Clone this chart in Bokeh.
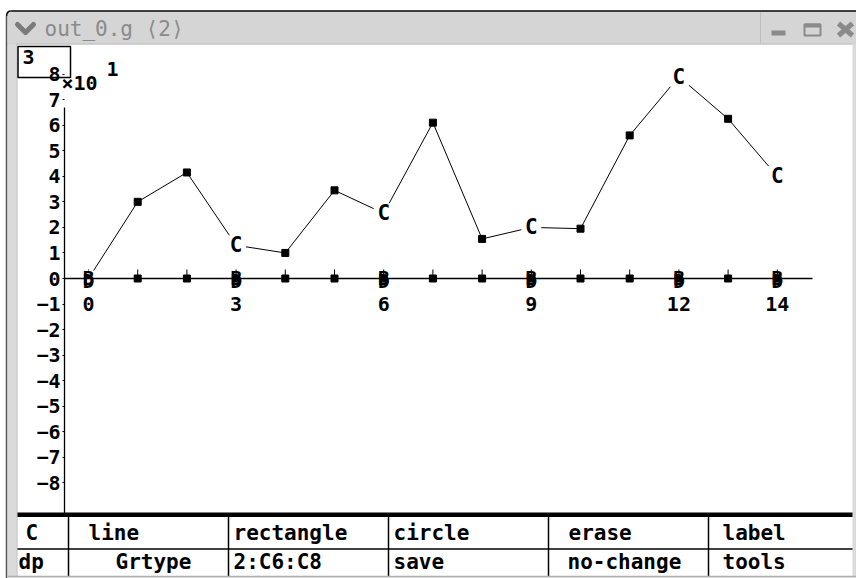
from bokeh.plotting import figure
from bokeh.models import Range1d, LinearAxis, FixedTicker
from bokeh.core.properties import value
from bokeh.embed import file_html
from bokeh.resources import INLINE

# ---------------- data ----------------
X_VALS = list(range(15))
Y_VALS = [0.0, 3.0, 4.15, 1.3, 1.0, 3.45, 2.55, 6.1, 1.55, 2.0, 1.95, 5.6, 7.9, 6.25, 4.0]
MARKERS = ["B", "s", "s", "C", "s", "s", "C", "s", "s", "C", "s", "s", "C", "s", "C"]
AXIS_MARK_X = list(range(15))
AXIS_B_X = [0, 3, 6, 9, 12, 14]
X_TICKS = [0, 3, 6, 9, 12, 14]
Y_TICKS = list(range(-8, 9))
SCALE_TEXT = "×10"
SCALE_EXP = "1"
BOX_TEXT = "3"
TITLE = "out_0.g ⟨2⟩"
MENU_ROW1 = ["C", "line", "rectangle", "circle", "erase", "label"]
MENU_ROW2 = ["dp", "Grtype", "2:C6:C8", "save", "no-change", "tools"]

# ---------------- layout (pixel positions in the window) ----------------
W, H = 856, 578
X0_PX, XU_PX = 88.0, 49.2
Y0_PX, YU_PX = 278.0, 25.55
FONT = "DejaVu Sans Mono"


def dx(px):
    return (px - X0_PX) / XU_PX


def dy(py):
    return (Y0_PX - py) / YU_PX


p = figure(width=W, height=H,
           x_range=Range1d(dx(0), dx(W)),
           y_range=Range1d(dy(H), dy(0)),
           output_backend="svg", toolbar_location=None,
           x_axis_location=None, y_axis_location=None,
           min_border=0, outline_line_color=None,
           background_fill_color="white", border_fill_color="white")
p.xgrid.visible = False
p.ygrid.visible = False


def txt(px, py, s, size=20, color="black", bold=True, align="left"):
    # py is the vertical centre of the text
    p.text(x=[dx(px)], y=[dy(py)], text=[s], text_font=value(FONT),
           text_font_size=value(f"{size}px"), text_color=color,
           text_font_style="bold" if bold else "normal",
           text_align=align, text_baseline="middle")


def hline(x0, x1, y, color="black", width=1.5):
    p.segment(x0=[dx(x0)], y0=[dy(y)], x1=[dx(x1)], y1=[dy(y)], line_color=color, line_width=width)


def vline(x, y0, y1, color="black", width=1.5):
    p.segment(x0=[dx(x)], y0=[dy(y0)], x1=[dx(x)], y1=[dy(y1)], line_color=color, line_width=width)


# ---------------- window chrome ----------------
p.quad(left=[dx(7)], right=[dx(856)], top=[dy(11)], bottom=[dy(43)],
       fill_color="#d5d5d5", line_color=None)
hline(10, 856, 10.5, "black", 1.5)
p.line(x=[dx(6), dx(6.5), dx(8), dx(10)], y=[dy(16), dy(13), dy(11), dy(10.5)],
       line_color="black", line_width=1.5)
hline(7, 856, 43.5, "#a9a9a9", 1)
vline(760, 12, 43, "#bdbdbd", 1)
p.quad(left=[dx(7)], right=[dx(16)], top=[dy(43)], bottom=[dy(578)],
       fill_color="#dadada", line_color=None)
vline(6, 16, 578, "#555555", 1.5)
vline(16.5, 43, 578, "#b5b5b5", 1)
p.quad(left=[dx(852)], right=[dx(856)], top=[dy(43)], bottom=[dy(578)],
       fill_color="#dadada", line_color=None)
# chevron
p.line(x=[dx(17), dx(25), dx(33)], y=[dy(24), dy(32), dy(24)],
       line_color="#7a7a7a", line_width=5, line_cap="round", line_join="round")
txt(44, 28, TITLE, size=21, color="#8a8a8a", bold=False)
# window buttons
hline(771, 785, 32.5, "#8a8a8a", 5)
p.quad(left=[dx(804)], right=[dx(820)], top=[dy(24)], bottom=[dy(35)],
       fill_color=None, line_color="#8a8a8a", line_width=2)
hline(804, 820, 25, "#8a8a8a", 4)
p.segment(x0=[dx(838), dx(838)], y0=[dy(23), dy(35)], x1=[dx(852), dx(852)], y1=[dy(35), dy(23)],
          line_color="#8a8a8a", line_width=5)

# box with "3"
p.quad(left=[dx(17.5)], right=[dx(70)], top=[dy(46)], bottom=[dy(77)],
       fill_color=None, line_color="black", line_width=1.5)
txt(22, 56, BOX_TEXT)
# scale factor
txt(61, 82, SCALE_TEXT)
txt(106, 68, SCALE_EXP)

# ---------------- axes ----------------
yax = LinearAxis(fixed_location=dx(64), ticker=FixedTicker(ticks=Y_TICKS),
                 axis_line_color=None, major_tick_in=0, major_tick_out=2,
                 major_tick_line_color="black", minor_tick_line_color=None,
                 major_label_standoff=2, major_label_text_font=FONT,
                 major_label_text_font_size="20px", major_label_text_font_style="bold",
                 major_label_text_color="black")
p.add_layout(yax, "left")
vline(64, 107, 513, "black", 1.3)

xax = LinearAxis(fixed_location=0, bounds=(dx(64), dx(812)), ticker=FixedTicker(ticks=X_TICKS),
                 axis_line_color="black", axis_line_width=1.5,
                 major_tick_in=0, major_tick_out=0, minor_tick_line_color=None,
                 major_label_standoff=18, major_label_text_font=FONT,
                 major_label_text_font_size="20px", major_label_text_font_style="bold",
                 major_label_text_color="black")
p.add_layout(xax, "below")

# axis point marks
zeros = [0] * len(AXIS_MARK_X)
p.segment(x0=AXIS_MARK_X, y0=zeros, x1=AXIS_MARK_X, y1=[9.0 / YU_PX] * len(AXIS_MARK_X),
          line_color="black", line_width=1)
p.scatter(x=AXIS_MARK_X, y=zeros, marker="square", size=7, fill_color="black", line_color="black")

# ---------------- series ----------------
p.line(x=X_VALS, y=Y_VALS, line_color="black", line_width=1)

c_x = [x for x, m in zip(X_VALS, MARKERS) if m == "C"]
c_y = [y for y, m in zip(Y_VALS, MARKERS) if m == "C"]
s_x = [x for x, m in zip(X_VALS, MARKERS) if m == "s"]
s_y = [y for y, m in zip(Y_VALS, MARKERS) if m == "s"]
b_x = [x for x, m in zip(X_VALS, MARKERS) if m == "B"]
b_y = [y for y, m in zip(Y_VALS, MARKERS) if m == "B"]

p.scatter(x=c_x, y=c_y, marker="square", size=20, fill_color="white", line_color=None)
p.scatter(x=b_x, y=b_y, marker="square", size=16, fill_color="white", line_color=None)
p.text(x=c_x, y=c_y, text=["C"] * len(c_x), text_font=value(FONT),
       text_font_size=value("21px"), text_font_style="bold", text_color="black",
       text_align="center", text_baseline="middle")
p.scatter(x=s_x, y=s_y, marker="square", size=7, fill_color="black", line_color="black")

bz = [0] * len(AXIS_B_X)
p.text(x=AXIS_B_X, y=bz, text=["D"] * len(AXIS_B_X), text_font=value(FONT),
       text_font_size=value("19px"), text_font_style="bold", text_color="black",
       text_align="center", text_baseline="middle", y_offset=2, level="overlay")
p.text(x=AXIS_B_X, y=bz, text=["B"] * len(AXIS_B_X), text_font=value(FONT),
       text_font_size=value("19px"), text_font_style="bold", text_color="black",
       text_align="center", text_baseline="middle", y_offset=-1, level="overlay")

# ---------------- menu ----------------
p.quad(left=[dx(17)], right=[dx(852)], top=[dy(512)], bottom=[dy(516.5)],
       fill_color="black", line_color=None)
hline(17, 852, 548.5, "black", 1.5)
for cx in [68, 228, 388, 548, 708]:
    vline(cx, 516, 576, "black", 1.5)
hline(7, 856, 576, "#b0b0b0", 1.5)
p.quad(left=[dx(7)], right=[dx(856)], top=[dy(576.5)], bottom=[dy(578)],
       fill_color="#dadada", line_color=None)
ROW1_X = [25, 88, 233, 393, 568, 722]
ROW2_X = [18, 115, 233, 393, 567, 722]
for s, x in zip(MENU_ROW1, ROW1_X):
    txt(x, 532, s, size=21)
for s, x in zip(MENU_ROW2, ROW2_X):
    txt(x, 561, s, size=21)

open("out.html", "w").write(file_html(p, INLINE))
